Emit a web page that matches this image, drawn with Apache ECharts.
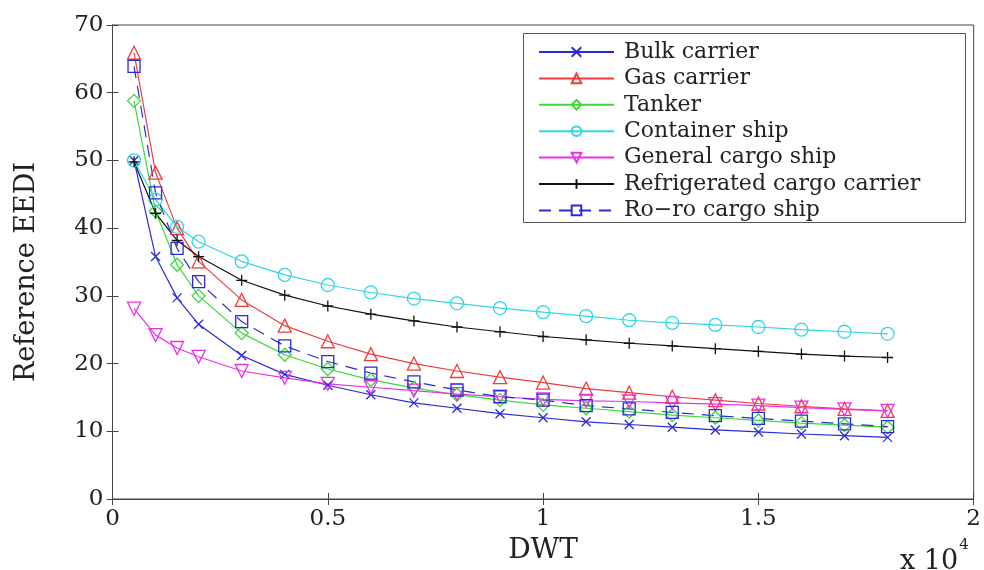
<!DOCTYPE html>
<html>
<head>
<meta charset="utf-8">
<script src="https://cdn.jsdelivr.net/npm/echarts@6/dist/echarts.min.js"></script>
<style>
html,body{margin:0;padding:0;background:#fff;}
#chart{width:984px;height:570px;}
</style>
</head>
<body>
<div id="chart"></div>
<script>
const dwt = [500,1000,1500,2000,3000,4000,5000,6000,7000,8000,9000,10000,11000,12000,13000,14000,15000,16000,17000,18000];
const bulkCarrier = [50.0,35.8,29.7,25.8,21.2,18.4,16.8,15.4,14.2,13.4,12.6,12.0,11.4,11.0,10.6,10.2,9.9,9.6,9.35,9.1];
const gasCarrier = [65.9,48.2,40.0,35.1,29.4,25.6,23.3,21.4,20.0,18.9,18.0,17.2,16.3,15.7,15.1,14.6,14.1,13.7,13.3,13.0];
const tanker = [58.8,42.5,34.6,30.0,24.5,21.3,19.2,17.6,16.4,15.4,14.6,13.9,13.4,12.9,12.4,12.0,11.6,11.2,10.9,10.6];
const containerShip = [50.0,44.2,40.2,38.0,35.1,33.1,31.6,30.5,29.6,28.9,28.2,27.6,27.0,26.4,26.0,25.7,25.4,25.0,24.7,24.4];
const generalCargo = [28.1,24.2,22.3,21.0,18.9,17.9,17.0,16.5,16.0,15.5,15.1,14.7,14.5,14.4,14.2,14.0,13.8,13.5,13.25,13.0];
const refrigerated = [49.8,42.2,38.2,35.8,32.3,30.1,28.5,27.3,26.3,25.4,24.7,24.0,23.5,23.0,22.6,22.2,21.8,21.4,21.1,20.9];
const roro = [63.9,45.2,37.0,32.1,26.2,22.6,20.3,18.6,17.3,16.1,15.1,14.6,13.8,13.3,12.8,12.3,11.9,11.5,11.1,10.7];
const yTicks = [0,10,20,30,40,50,60,70];
const xTickLabels = ['0','0.5','1','1.5','2'];

const FONT = 'DejaVu Serif';
const X_PATH = 'path://M0,0L10,10M10,0L0,10';
const PLUS_PATH = 'path://M5,0L5,10M0,5L10,5';

function pair(vals){ return dwt.map((x,i)=>[x, vals[i]]); }
function mk(name, vals, color, symbol, opts){
  opts = opts || {};
  return {
    name: name, type: 'line', data: pair(vals),
    xAxisIndex: 0, yAxisIndex: 0,
    symbol: symbol, symbolSize: opts.size || 12, symbolRotate: opts.rotate || 0,
    showAllSymbol: true, animation: false,
    lineStyle: { color: color, width: 1.2, type: opts.dash || 'solid' },
    itemStyle: { color: 'rgba(255,255,255,0)', borderColor: color, borderWidth: 1.3 },
    emphasis: { disabled: true }
  };
}

const chart = echarts.init(document.getElementById('chart'), null, {renderer: 'canvas'});
const axisTxt = { color: '#222', fontFamily: FONT, fontSize: 23 };
chart.setOption({
  backgroundColor: '#fff',
  animation: false,
  grid: { left: 112.5, right: 8.5, top: 25, bottom: 71, show: true, borderColor: '#444', borderWidth: 1 },
  xAxis: [
    { type: 'value', min: 0, max: 20000, interval: 5000, position: 'bottom',
      name: 'DWT', nameLocation: 'middle', nameGap: 38,
      nameTextStyle: { color: '#222', fontFamily: FONT, fontSize: 28 },
      axisLine: { show: true, lineStyle: { color: '#444' } },
      axisTick: { inside: true, length: 6, lineStyle: { color: '#444' } },
      axisLabel: { ...axisTxt, margin: 9, formatter: v => xTickLabels[Math.round(v/5000)] },
      splitLine: { show: false } },
    { type: 'value', min: 0, max: 20000, interval: 5000, position: 'top',
      axisLine: { show: true, lineStyle: { color: '#444' } },
      axisTick: { inside: true, length: 6, lineStyle: { color: '#444' } },
      axisLabel: { show: false }, splitLine: { show: false } }
  ],
  yAxis: [
    { type: 'value', min: yTicks[0], max: yTicks[yTicks.length-1], interval: 10, position: 'left',
      name: 'Reference EEDI', nameLocation: 'middle', nameGap: 72, nameRotate: 90,
      nameTextStyle: { color: '#222', fontFamily: FONT, fontSize: 27, padding: [0, 0, 0, -20] },
      axisLine: { show: true, lineStyle: { color: '#444' } },
      axisTick: { inside: true, length: 6, lineStyle: { color: '#444' } },
      axisLabel: { ...axisTxt, margin: 9 },
      splitLine: { show: false } },
    { type: 'value', min: 0, max: 70, interval: 10, position: 'right',
      axisLine: { show: true, lineStyle: { color: '#444' } },
      axisTick: { inside: true, length: 6, lineStyle: { color: '#444' } },
      axisLabel: { show: false }, splitLine: { show: false } }
  ],
  legend: {
    orient: 'vertical', left: 538, top: 41, padding: 0,
    itemWidth: 75, itemHeight: 12, itemGap: 4.4,
    textStyle: { color: '#222', fontFamily: FONT, fontSize: 22, lineHeight: 22, padding: [0,0,0,5] },
    z: 10,
    data: ['Bulk carrier','Gas carrier','Tanker','Container ship','General cargo ship','Refrigerated cargo carrier','Ro\u2212ro cargo ship']
  },
  graphic: [
    { type: 'rect', z: 5, shape: { x: 523.5, y: 33.5, width: 442, height: 189 },
      style: { fill: '#fff', stroke: '#555', lineWidth: 1 } },
    { type: 'text', left: 900, top: 538, z: 5,
      style: { text: '{a|x 10}{b|4}', rich: {
        a: { fontFamily: FONT, fontSize: 27, fill: '#222', padding: [10,0,0,0] },
        b: { fontFamily: FONT, fontSize: 15, fill: '#222', verticalAlign: 'top', padding: [0,0,0,1] } } } }
  ],
  series: [
    mk('Bulk carrier', bulkCarrier, '#2a2ad8', X_PATH, {size: 9}),
    mk('Gas carrier', gasCarrier, '#f03c3c', 'triangle', {size: 13}),
    mk('Tanker', tanker, '#3cd83c', 'diamond', {size: 13}),
    mk('Container ship', containerShip, '#30d6e4', 'circle', {size: 13}),
    mk('General cargo ship', generalCargo, '#e830e8', 'triangle', {size: 13, rotate: 180}),
    mk('Refrigerated cargo carrier', refrigerated, '#111111', PLUS_PATH, {size: 11}),
    mk('Ro\u2212ro cargo ship', roro, '#2a2ad8', 'rect', {size: 12, dash: [12, 8]})
  ]
});
</script>
</body>
</html>
